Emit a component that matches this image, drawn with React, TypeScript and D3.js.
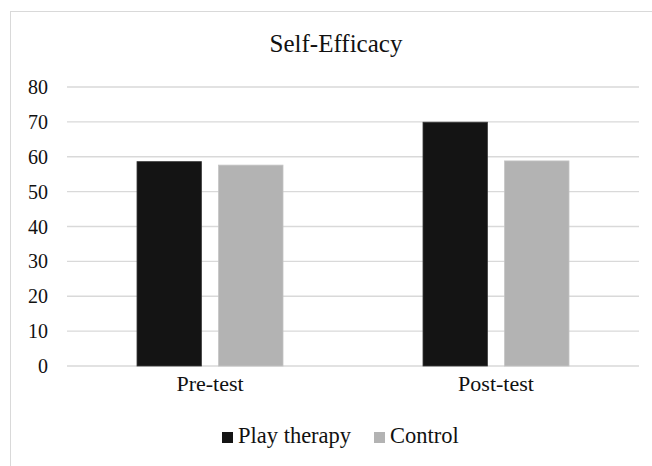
import React from "react";
import * as d3 from "d3";

const title = "Self-Efficacy";
const categories = ["Pre-test", "Post-test"];
const seriesNames = ["Play therapy", "Control"];
const playTherapy = [58.6, 69.9];
const control = [57.6, 58.8];
const yTicks = [0, 10, 20, 30, 40, 50, 60, 70, 80];
const seriesColors = ["#141414", "#b3b3b3"];

const W = 652;
const H = 466;
const FONT = "'Liberation Serif', 'Times New Roman', serif";

export default function App() {
  const x = d3.scaleBand<string>().domain(categories).range([67, 639]).padding(0);
  const inner = d3
    .scaleBand<string>()
    .domain(seriesNames)
    .range([70, 216])
    .paddingInner(0.21)
    .paddingOuter(0);
  const y = d3.scaleLinear().domain([0, 80]).range([366, 87]);
  const values = [playTherapy, control];

  const legendItems = [
    { name: seriesNames[0], color: seriesColors[0], x: 222 },
    { name: seriesNames[1], color: seriesColors[1], x: 374 },
  ];

  return (
    <svg
      width={W}
      height={H}
      style={{ position: "absolute", left: 0, top: 0, background: "#fff" }}
      fontFamily={FONT}
    >
      <rect x={0} y={0} width={W} height={H} fill="#fff" />
      <rect x={10.5} y={11.5} width={700} height={500} fill="none" stroke="#d9d9d9" strokeWidth={1} />
      <text x={336} y={52} textAnchor="middle" fontSize={25} fill="#111">
        {title}
      </text>
      {yTicks.map((t) => (
        <g key={t}>
          <line x1={67} x2={639} y1={y(t)} y2={y(t)} stroke="#d9d9d9" strokeWidth={1.4} />
          <text x={48} y={y(t)} dy="0.35em" textAnchor="end" fontSize={20} fill="#111">
            {t}
          </text>
        </g>
      ))}
      {categories.map((c, i) => (
        <g key={c} transform={`translate(${x(c)},0)`}>
          {seriesNames.map((s, j) => (
            <rect
              key={s}
              x={inner(s)}
              y={y(values[j][i])}
              width={inner.bandwidth()}
              height={y(0) - y(values[j][i])}
              fill={seriesColors[j]}
              stroke={j === 0 ? "#3a3a3a" : "#c4c4c4"}
              strokeWidth={0.8}
            />
          ))}
          <text
            x={x.bandwidth() / 2}
            y={391}
            textAnchor="middle"
            fontSize={22}
            fill="#111"
          >
            {c}
          </text>
        </g>
      ))}
      {legendItems.map((l) => (
        <g key={l.name}>
          <rect x={l.x} y={432} width={11} height={11} fill={l.color} />
          <text x={l.x + 16} y={443} fontSize={22.5} fill="#111">
            {l.name}
          </text>
        </g>
      ))}
    </svg>
  );
}
